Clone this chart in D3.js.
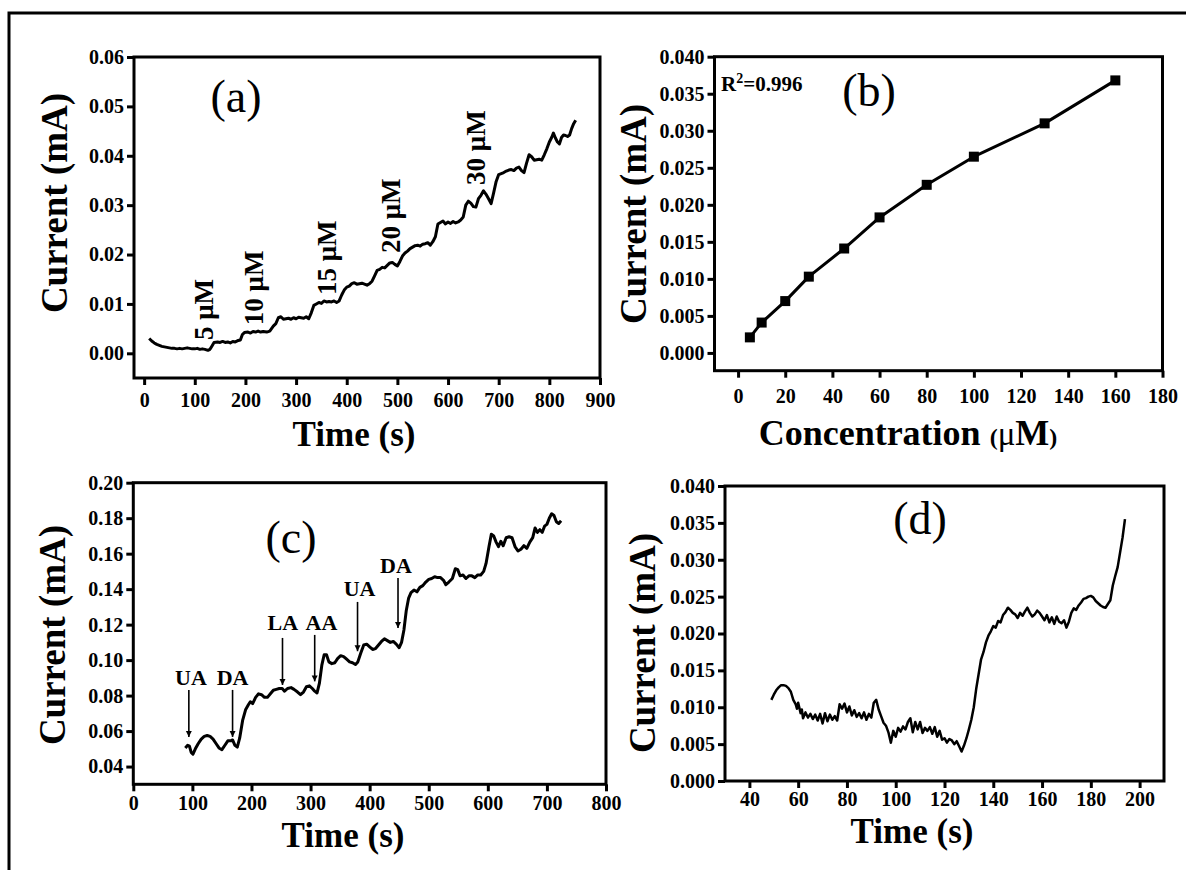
<!DOCTYPE html>
<html>
<head>
<meta charset="utf-8">
<title>Current response panels</title>
<script src="https://d3js.org/d3.v7.min.js"></script>
<style>
  body { margin: 0; background: #fff; }
  svg { display: block; background: #fff; font-family: "Liberation Serif", "Times New Roman", serif; }
  .tick line { stroke: #000; stroke-width: 3; }
  .tick text { font-family: "Liberation Serif", "Times New Roman", serif; font-size: 20px; font-weight: bold; fill: #000; }
  .domain { display: none; }
  .box { fill: none; stroke: #000; stroke-width: 3; }
  .curve { fill: none; stroke: #000; stroke-width: 3; stroke-linejoin: round; }
  .title { font-size: 35px; font-weight: bold; text-anchor: middle; }
  .panel { font-size: 46px; text-anchor: middle; }
</style>
</head>
<body>
<svg width="1186" height="870"></svg>
<script>
// ---- data ----
// (a) amperometric response, successive additions
const aTime = [10,15,20,25,30,35,40,45,50,55,60,65,70,75,80,85,90,95,100,105,110,115,120,126,130,134,138,145,150,155,160,165,170,175,180,186,190,194,198,205,210,215,220,225,230,235,242,248,255,260,265,270,275,280,285,290,295,300,305,310,315,320,325,330,335,340,345,350,355,360,365,370,375,380,385,390,395,400,405,410,415,420,425,430,435,440,445,450,455,460,465,470,475,480,485,490,495,500,505,510,515,520,525,530,535,540,545,550,555,560,565,570,575,580,585,590,595,600,605,610,615,620,625,630,635,640,645,650,655,660,665,670,675,680,685,690,695,700,705,710,715,720,725,730,735,740,745,750,755,760,765,770,775,780,785,790,795,800,805,808,812,816,820,824,828,832,836,840,844,848,852];
const aCurrent = [0.0030,0.0025,0.0021,0.0018,0.0016,0.0014,0.0013,0.0012,0.0011,0.0010,0.0010,0.0009,0.0010,0.0009,0.0010,0.0011,0.0010,0.0009,0.0009,0.0010,0.0008,0.0009,0.0008,0.0006,0.0008,0.0015,0.0022,0.0023,0.0022,0.0024,0.0022,0.0023,0.0021,0.0024,0.0023,0.0026,0.0027,0.0038,0.0042,0.0043,0.0041,0.0044,0.0043,0.0045,0.0043,0.0044,0.0043,0.0045,0.0055,0.0060,0.0072,0.0074,0.0069,0.0070,0.0071,0.0069,0.0072,0.0070,0.0073,0.0072,0.0071,0.0074,0.0070,0.0082,0.0097,0.0100,0.0103,0.0101,0.0106,0.0104,0.0105,0.0104,0.0106,0.0103,0.0106,0.0118,0.0128,0.0134,0.0136,0.0141,0.0143,0.0140,0.0141,0.0142,0.0140,0.0138,0.0141,0.0146,0.0157,0.0168,0.0170,0.0174,0.0173,0.0178,0.0183,0.0184,0.0180,0.0177,0.0186,0.0197,0.0203,0.0207,0.0212,0.0215,0.0218,0.0219,0.0217,0.0221,0.0222,0.0224,0.0219,0.0226,0.0236,0.0262,0.0265,0.0268,0.0262,0.0266,0.0263,0.0267,0.0264,0.0266,0.0270,0.0276,0.0300,0.0308,0.0304,0.0297,0.0296,0.0313,0.0320,0.0329,0.0322,0.0313,0.0303,0.0325,0.0348,0.0362,0.0364,0.0366,0.0369,0.0371,0.0372,0.0370,0.0375,0.0377,0.0370,0.0366,0.0385,0.0402,0.0398,0.0391,0.0392,0.0393,0.0391,0.0402,0.0414,0.0428,0.0438,0.0446,0.0436,0.0428,0.0424,0.0437,0.0442,0.0441,0.0439,0.0442,0.0455,0.0465,0.0472];
const aNotes = ["5 μM", "10 μM", "15 μM", "20 μM", "30 μM"];
const aNoteTime = [118, 217, 360, 486, 654];
const aNoteCurrent = [0.0027, 0.0057, 0.0118, 0.0203, 0.0341];

// (b) calibration
const bConc = [5, 10, 20, 30, 45, 60, 80, 100, 130, 160];
const bCurrent = [0.0021, 0.0041, 0.0070, 0.0103, 0.0141, 0.0183, 0.0227, 0.0265, 0.0310, 0.0368];

// (c) interference test
const cTime = [88,92,95,98,101,105,110,115,120,125,130,135,140,145,150,155,160,165,168,172,176,180,185,190,195,198,202,207,212,217,222,227,232,237,242,247,252,256,261,267,272,278,283,288,293,298,303,307,311,315,319,323,327,331,336,341,346,351,356,361,366,371,376,380,385,390,395,400,405,410,415,420,425,430,435,440,445,450,454,458,462,466,470,475,480,485,490,495,500,505,510,515,520,525,529,534,540,545,549,553,558,563,568,573,578,583,588,593,597,602,606,610,614,618,622,626,631,636,641,646,651,656,661,666,671,676,680,684,688,692,696,700,704,708,712,716,720,724];
const cCurrent = [0.0505,0.0520,0.0515,0.0480,0.0470,0.0500,0.0530,0.0555,0.0570,0.0575,0.0570,0.0555,0.0530,0.0505,0.0495,0.0520,0.0545,0.0545,0.0550,0.0520,0.0510,0.0560,0.0660,0.0720,0.0750,0.0765,0.0755,0.0790,0.0810,0.0805,0.0790,0.0790,0.0810,0.0830,0.0835,0.0840,0.0840,0.0825,0.0840,0.0845,0.0835,0.0820,0.0805,0.0820,0.0850,0.0855,0.0840,0.0825,0.0815,0.0870,0.0970,0.1030,0.1030,0.0990,0.0980,0.0985,0.1010,0.1025,0.1020,0.1005,0.0990,0.0985,0.0975,0.0990,0.1040,0.1085,0.1090,0.1075,0.1060,0.1065,0.1085,0.1105,0.1120,0.1110,0.1100,0.1105,0.1090,0.1070,0.1100,0.1170,0.1280,0.1350,0.1380,0.1395,0.1385,0.1410,0.1420,0.1440,0.1455,0.1460,0.1470,0.1465,0.1465,0.1450,0.1425,0.1440,0.1460,0.1515,0.1510,0.1475,0.1480,0.1460,0.1475,0.1475,0.1465,0.1480,0.1480,0.1500,0.1545,0.1640,0.1710,0.1700,0.1665,0.1640,0.1670,0.1645,0.1690,0.1695,0.1690,0.1640,0.1615,0.1625,0.1645,0.1630,0.1665,0.1690,0.1745,0.1720,0.1735,0.1720,0.1755,0.1765,0.1800,0.1825,0.1815,0.1780,0.1770,0.1785];
const cLabels = ["UA", "DA", "LA", "AA", "UA", "DA"];
const cLabelTime = [97.6, 168, 253, 318.5, 383, 444.5];
const cLabelCurrent = [0.086, 0.086, 0.117, 0.117, 0.136, 0.149];
const cArrowTime = [94, 168, 252.5, 307, 379.5, 448];
const cArrowFrom = [0.0832, 0.0832, 0.1125, 0.1142, 0.1328, 0.1463];
const cArrowTo = [0.0567, 0.0567, 0.0860, 0.0880, 0.1050, 0.1181];

// (d) real sample
const dTime = [49,50,51,52,53,54,55,56,57,58,59,59.5,60,61,61.5,62,63,64,65,66,67,68,69,70,71,72,73,74,75,76,77,78,79,80,81,82,83,84,85,86,87,88,89,90,91,92,93,94,95,96,97,98,99,100,101,102,103,104,105,106,107,108,109,110,111,112,113,114,115,116,117,118,119,120,121,122,123,124,125,126,127,128,129,130,131,132,133,134,135,136,137,138,139,140,141,142,143,144,145,146,147,148,149,150,151,152,153,154,155,156,157,158,159,160,161,162,163,164,165,166,167,168,169,170,171,172,173,174,175,176,177,178,179,180,181,182,183,184,185,186,187,188,189,190,191,192,193,194];
const dCurrent = [0.0110,0.0117,0.0123,0.0127,0.0130,0.0130,0.0129,0.0126,0.0121,0.0110,0.0104,0.0098,0.0106,0.0092,0.0097,0.0085,0.0093,0.0086,0.0091,0.0084,0.0090,0.0082,0.0091,0.0078,0.0092,0.0081,0.0090,0.0083,0.0088,0.0082,0.0104,0.0098,0.0105,0.0093,0.0101,0.0089,0.0096,0.0087,0.0092,0.0085,0.0093,0.0083,0.0091,0.0086,0.0106,0.0110,0.0097,0.0088,0.0079,0.0075,0.0066,0.0052,0.0068,0.0060,0.0072,0.0067,0.0074,0.0070,0.0080,0.0085,0.0066,0.0080,0.0070,0.0080,0.0065,0.0072,0.0068,0.0073,0.0064,0.0073,0.0060,0.0068,0.0056,0.0058,0.0052,0.0057,0.0055,0.0050,0.0054,0.0047,0.0040,0.0048,0.0058,0.0070,0.0083,0.0100,0.0125,0.0145,0.0165,0.0175,0.0188,0.0197,0.0203,0.0210,0.0208,0.0217,0.0215,0.0225,0.0229,0.0235,0.0232,0.0228,0.0226,0.0221,0.0228,0.0224,0.0230,0.0235,0.0228,0.0223,0.0226,0.0231,0.0228,0.0223,0.0218,0.0225,0.0215,0.0222,0.0213,0.0223,0.0216,0.0214,0.0218,0.0208,0.0216,0.0228,0.0234,0.0232,0.0238,0.0242,0.0247,0.0248,0.0250,0.0251,0.0249,0.0244,0.0241,0.0238,0.0236,0.0235,0.0240,0.0245,0.0265,0.0278,0.0290,0.0310,0.0330,0.0355];

// ---- drawing ----
const svg = d3.select('svg');

// outer frame (only left and top edges fall inside the picture)
svg.append('rect')
    .attr('class', 'box')
    .attr('x', 9).attr('y', 13)
    .attr('width', 1400).attr('height', 1000);

svg.append('defs').append('marker')
    .attr('id', 'head')
    .attr('viewBox', '0 0 10 10')
    .attr('refX', 10).attr('refY', 5)
    .attr('markerWidth', 6).attr('markerHeight', 7)
    .attr('markerUnits', 'userSpaceOnUse')
    .attr('orient', 'auto')
  .append('path')
    .attr('d', 'M0,0L10,5L0,10Z');

// builds one framed panel and returns its scales
function panel(box, xDom, yDom, xTicks, yTicks, yFmt, xPad) {
    let x = d3.scaleLinear().domain(xDom).range([box.left, box.right]);
    let y = d3.scaleLinear().domain(yDom).range([box.bottom, box.top]);

    svg.append('g')
        .attr('transform', `translate(0,${box.bottom})`)
        .call(d3.axisBottom(x).tickValues(xTicks).tickFormat(d3.format('d'))
            .tickSize(7).tickSizeOuter(0).tickPadding(xPad))
        .attr('font-family', null).attr('font-size', null);
    svg.append('g')
        .attr('transform', `translate(${box.left},0)`)
        .call(d3.axisLeft(y).tickValues(yTicks).tickFormat(d3.format(yFmt))
            .tickSize(7).tickSizeOuter(0).tickPadding(3))
        .attr('font-family', null).attr('font-size', null);

    svg.append('rect')
        .attr('class', 'box')
        .attr('x', box.left).attr('y', box.top)
        .attr('width', box.right - box.left)
        .attr('height', box.bottom - box.top);
    return {x, y};
}

function yTitle(cx, cy) {
    svg.append('text')
        .attr('class', 'title')
        .style('font-size', '37px')
        .attr('transform', `translate(${cx},${cy}) rotate(-90)`)
        .attr('dy', '0.33em')
        .text('Current (mA)');
}
function xTitle(cx, by, txt) {
    return svg.append('text').attr('class', 'title').attr('x', cx).attr('y', by).text(txt);
}
function label(cx, cy, txt) {
    svg.append('text').attr('class', 'panel').attr('x', cx).attr('y', cy).attr('dy', '0.35em').text(txt);
}
function curve(p, xs, ys, w) {
    svg.append('path')
        .attr('class', 'curve')
        .style('stroke-width', w)
        .datum(d3.zip(xs, ys))
        .attr('d', d3.line().x(d => p.x(d[0])).y(d => p.y(d[1])));
}

// (a)
let pa = panel({left: 134, top: 57, right: 600, bottom: 378},
    [-20, 900], [-0.005, 0.06], d3.range(0, 901, 100), d3.range(0, 0.0601, 0.01), '.2f', 8);
curve(pa, aTime, aCurrent, 3);
svg.append('g').selectAll('text')
    .data(aNotes)
    .join('text')
    .attr('transform', (d, i) => `translate(${pa.x(aNoteTime[i])},${pa.y(aNoteCurrent[i])}) rotate(-90)`)
    .attr('dy', '0.35em')
    .style('font-size', '27px').style('font-weight', 'bold')
    .text(d => d);
yTitle(55, 203);
xTitle(354, 446, 'Time (s)');
label(236, 96, '(a)');

// (b)
let pb = panel({left: 714.5, top: 56.7, right: 1162.5, bottom: 370.7},
    [-10, 180], [-0.0024, 0.04], d3.range(0, 181, 20), d3.range(0, 0.0401, 0.005), '.3f', 11);
curve(pb, bConc, bCurrent, 3);
svg.append('g').selectAll('rect')
    .data(d3.zip(bConc, bCurrent))
    .join('rect')
    .attr('x', d => pb.x(d[0]) - 5).attr('y', d => pb.y(d[1]) - 5)
    .attr('width', 10).attr('height', 10);
let r2 = svg.append('text').attr('x', 721).attr('y', 91)
    .style('font-size', '21px').style('font-weight', 'bold');
r2.append('tspan').text('R');
r2.append('tspan').attr('dy', -8).style('font-size', '14px').text('2');
r2.append('tspan').attr('dy', 8).text('=0.996');
yTitle(634, 214);
let bt = xTitle(908, 445, 'Concentration ').style('font-size', '36px');
bt.append('tspan').style('font-size', '24px').text('(');
bt.append('tspan').style('font-size', '33px').style('font-weight', 'normal').text('μ');
bt.append('tspan').text('M');
bt.append('tspan').style('font-size', '24px').text(')');
label(869, 90, '(b)');

// (c)
let pc = panel({left: 133.3, top: 482.7, right: 606, bottom: 784.3},
    [0, 800], [0.03, 0.20], d3.range(0, 801, 100), d3.range(0.04, 0.2001, 0.02), '.2f', 5);
curve(pc, cTime, cCurrent, 3);
svg.append('g').selectAll('line')
    .data(cArrowTime)
    .join('line')
    .attr('x1', d => pc.x(d)).attr('x2', d => pc.x(d))
    .attr('y1', (d, i) => pc.y(cArrowFrom[i]))
    .attr('y2', (d, i) => pc.y(cArrowTo[i]))
    .attr('stroke', '#000').attr('stroke-width', 1.6)
    .attr('marker-end', 'url(#head)');
svg.append('g').selectAll('text')
    .data(cLabels)
    .join('text')
    .attr('x', (d, i) => pc.x(cLabelTime[i]))
    .attr('y', (d, i) => pc.y(cLabelCurrent[i]))
    .attr('text-anchor', 'middle')
    .style('font-size', '22px').style('font-weight', 'bold')
    .text(d => d);
yTitle(53, 635);
xTitle(343, 847, 'Time (s)');
label(291, 537, '(c)');

// (d)
let pd = panel({left: 725, top: 486, right: 1164, bottom: 781},
    [30, 210], [0, 0.04], d3.range(40, 201, 20), d3.range(0, 0.0401, 0.005), '.3f', 4);
curve(pd, dTime, dCurrent, 2.5);
yTitle(643, 643);
xTitle(912, 843, 'Time (s)');
label(920, 518, '(d)');
</script>
</body>
</html>
